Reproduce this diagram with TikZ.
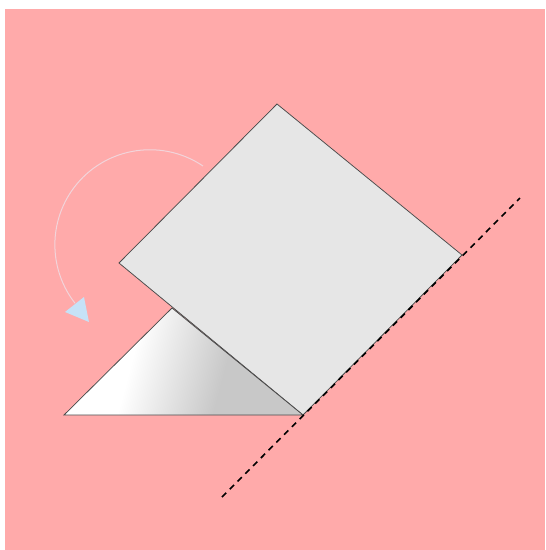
\documentclass[tikz,border=0pt]{standalone}
\usetikzlibrary{arrows.meta}
\definecolor{bgpink}{HTML}{FFAAAA}
\definecolor{sqfill}{HTML}{E6E6E6}
\definecolor{edge}{HTML}{4A4A4A}
\definecolor{arcc}{HTML}{F2D4DA}
\definecolor{tipblue}{HTML}{C6E2F7}
\definecolor{trigray}{HTML}{C8C8C8}
\pgfdeclarehorizontalshading{trishade}{100bp}{color(0bp)=(white); color(38bp)=(white); color(60bp)=(trigray); color(100bp)=(trigray)}
\tikzset{
  shapeedge/.style={draw=edge, line width=0.75pt},
  dashline/.style={draw=black, line width=1.6pt, dash pattern=on 6pt off 5pt},
  turnarc/.style={draw=arcc, line width=1pt},
}
\begin{document}
\begin{tikzpicture}[x=1pt,y=-1pt]
\useasboundingbox (0,0) rectangle (546,550);
\fill[white] (0,0) rectangle (546,550);
\fill[bgpink] (5,9) rectangle (545,550);
% parallelogram
\coordinate (T) at (277,104);
\coordinate (R) at (462,255);
\coordinate (B) at (303,415);
\coordinate (L) at (119,263);
% triangle
\coordinate (A) at (64,415);
\coordinate (P) at (172,308);
% dashed line ends
\coordinate (D1) at (222,497);
\coordinate (D2) at (520,198);
\fill[sqfill] (T) -- (R) -- (B) -- (L) -- cycle;
\draw[shapeedge] (T) -- (R) -- (B) -- (L) -- cycle;
\shade[shading=trishade, shading angle=-15] (A) -- (P) -- (B) -- cycle;
\draw[shapeedge] (A) -- (P) -- (B) -- cycle;
\draw[dashline] (D1) -- (D2);
% rotation arrow
\coordinate (S) at (203,166);
\draw[turnarc] (S) arc[start angle=-56, end angle=-218, radius=95] coordinate (E);
\fill[tipblue] (65,312) -- (84,297) -- (89,322) -- cycle;
\end{tikzpicture}
\end{document}
